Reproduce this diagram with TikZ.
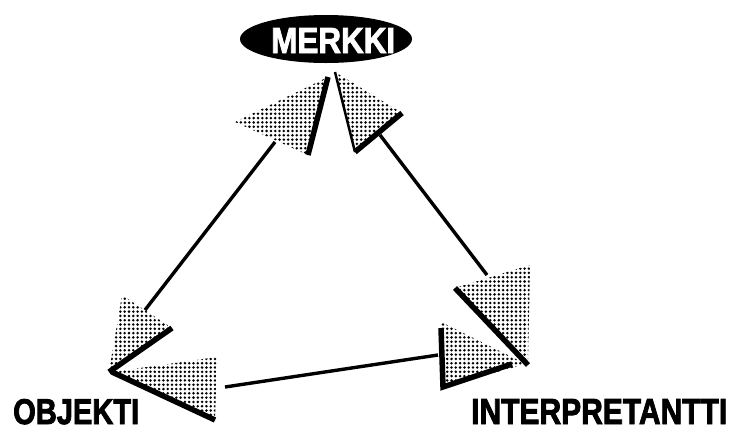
\documentclass[tikz,border=0pt]{standalone}
\usepackage{graphicx}
\usepackage{fontspec}
\newfontfamily\labfont{Liberation Sans}[FakeBold=2.5]
\usetikzlibrary{shapes.geometric,patterns.meta}
\tikzset{
  dotfill/.style={pattern={Dots[radius=1.4pt,distance=4.3pt]},pattern color=black},
  thickedge/.style={draw=black,line width=5.5pt,line join=miter},
  thinedge/.style={draw=black,line width=2.5pt},
  conn/.style={draw=black,line width=3.4pt},
  label/.style={inner sep=0pt,anchor=base west}
}
\begin{document}
\begin{tikzpicture}[x=1pt,y=-1pt]
\useasboundingbox (0,0) rectangle (734,432);
% top ellipse
\node[ellipse,fill=black,minimum width=172pt,minimum height=48pt,inner sep=0pt] (merkki) at (326,39) {};
\node[label,text=white] (merkkilabel) at (271,53) {\resizebox{124pt}{25pt}{\labfont\bfseries MERKKI}};
\node[label] (objekti) at (13,424) {\resizebox{126pt}{25pt}{\labfont\bfseries OBJEKTI}};
\node[label] (interp) at (471,424) {\resizebox{256pt}{25pt}{\labfont\bfseries INTERPRETANTTI}};
% arrowhead points
\coordinate (tla) at (235,122); \coordinate (tlb) at (328,77); \coordinate (tlc) at (308,155);
\coordinate (tra) at (335,72);  \coordinate (trb) at (402,113); \coordinate (trc) at (355,152);
\coordinate (blua) at (122,295); \coordinate (blub) at (172,328); \coordinate (bluc) at (109,372);
\coordinate (blla) at (112,372); \coordinate (bllb) at (217,357); \coordinate (bllc) at (215,420);
\coordinate (brua) at (455,288); \coordinate (brub) at (530,265); \coordinate (bruc) at (528,365);
\coordinate (brla) at (441,322); \coordinate (brlb) at (443,387); \coordinate (brlc) at (526,364);
\coordinate (brlv) at (441,328); \coordinate (brle) at (512,364);
% connector ends
\coordinate (c1a) at (275,142); \coordinate (c1b) at (145,310);
\coordinate (c2a) at (380,135); \coordinate (c2b) at (487,275);
\coordinate (c3a) at (225,387); \coordinate (c3b) at (438,355);
% dotted heads
\fill[dotfill] (tla) -- (tlb) -- (tlc) -- cycle;
\fill[dotfill] (tra) -- (trb) -- (trc) -- cycle;
\fill[dotfill] (blua) -- (blub) -- (bluc) -- cycle;
\fill[dotfill] (blla) -- (bllb) -- (bllc) -- cycle;
\fill[dotfill] (brua) -- (brub) -- (bruc) -- cycle;
\fill[dotfill] (brla) -- (brlc) -- (brlb) -- cycle;
% black edges
\draw[thickedge] (tlb) -- (tlc);
\draw[thinedge] (tra) -- (trc);
\draw[thickedge] (trc) -- (trb);
\draw[thickedge] (blub) -- (bluc);
\draw[thickedge] (blla) -- (bllc);
\draw[thickedge] (brua) -- (bruc);
\draw[thickedge] (brlv) -- (brlb) -- (brle);
% connectors
\draw[conn] (c1a) -- (c1b);
\draw[conn] (c2a) -- (c2b);
\draw[conn] (c3a) -- (c3b);
\end{tikzpicture}
\end{document}
